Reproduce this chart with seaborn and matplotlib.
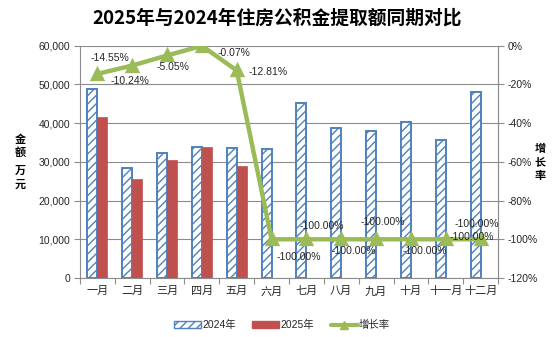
import numpy as np
import pandas as pd
import matplotlib
matplotlib.use("Agg")
import matplotlib.pyplot as plt
import seaborn as sns
from matplotlib.patches import Patch
from matplotlib.lines import Line2D
from matplotlib.ticker import FuncFormatter, MultipleLocator, FixedLocator

# ---------------- data ----------------
months = ["一月", "二月", "三月", "四月", "五月", "六月",
          "七月", "八月", "九月", "十月", "十一月", "十二月"]
values_2024 = [48800, 28500, 32200, 33900, 33500, 33200,
               45100, 38800, 38000, 40400, 35600, 48000]
values_2025 = [41700, 25500, 30500, 33800, 29000, 0,
               0, 0, 0, 0, 0, 0]
growth_rate = [-14.55, -10.24, -5.05, -0.07, -12.81, -100.00,
               -100.00, -100.00, -100.00, -100.00, -100.00, -100.00]
series_names = ["2024年", "2025年"]
line_name = "增长率"
title = "2025年与2024年住房公积金提取额同期对比"

# label offsets (pixels) for the growth-rate data labels
label_offsets = [(12, 16), (-2, -15), (6, -12), (32, -7), (31, -2), (27, -18),
                 (15, 13), (13, -12), (7, 17), (14, -12), (26, 2), (-4, 15)]

# ---------------- style ----------------
sns.set_theme(style="white")
plt.rcParams["font.family"] = ["Liberation Sans", "Noto Sans CJK SC"]
plt.rcParams["hatch.linewidth"] = 1.0

BLUE = "#4F81BD"
HATCH_BLUE = "#7FA3D3"
RED = "#C0504D"
GREEN = "#9BBB59"
GRID = "#8C8C8C"
TXT = "#262626"

df = pd.DataFrame({
    "month": months * 2,
    "year": [series_names[0]] * 12 + [series_names[1]] * 12,
    "value": values_2024 + values_2025,
})
df = df[df["value"] > 0]

fig = plt.figure(figsize=(5.54, 3.37), dpi=100)
ax = fig.add_axes([80 / 554, 1 - 278 / 337, 418 / 554, (278 - 45.7) / 337])

sns.barplot(data=df, x="month", y="value", hue="year", order=months,
            hue_order=series_names, palette=[BLUE, RED], width=0.57,
            legend=False, ax=ax, saturation=1)

# style bars
for patch in ax.containers[0]:
    patch.set_facecolor("white")
    patch.set_edgecolor(BLUE)
    patch.set_linewidth(1.4)
    patch.set_hatch("////")
    try:
        patch.set_hatchcolor(HATCH_BLUE)
    except Exception:
        pass
for patch in ax.containers[1]:
    patch.set_facecolor(RED)
    patch.set_edgecolor(RED)
    patch.set_linewidth(0.5)

ax.set_ylim(0, 60000)
ax.set_xlim(-0.5, 11.5)
ax.yaxis.set_major_locator(MultipleLocator(10000))
ax.yaxis.set_major_formatter(FuncFormatter(lambda v, p: f"{int(v):,}"))
ax.grid(axis="y", color=GRID, linewidth=0.8)
ax.set_axisbelow(True)
ax.set_xlabel("")
ax.set_ylabel("")

for s in ["top"]:
    ax.spines[s].set_visible(False)
for s in ["left", "bottom", "right"]:
    ax.spines[s].set_color(GRID)
    ax.spines[s].set_linewidth(0.8)

ax.tick_params(axis="y", which="major", left=True, length=4, width=0.8,
               color=GRID, labelsize=7.5, labelcolor=TXT, pad=3)
ax.tick_params(axis="x", which="major", bottom=False, length=0,
               labelsize=8, labelcolor=TXT, pad=6)
ax.xaxis.set_minor_locator(FixedLocator(np.arange(-0.5, 12, 1)))
ax.tick_params(axis="x", which="minor", bottom=True, length=4, width=0.8,
               color=GRID)
for lbl in ax.get_xticklabels():
    lbl.set_family(["Noto Sans CJK SC"])

# secondary axis: growth rate
ax2 = ax.twinx()
sns.pointplot(x=months, y=growth_rate, order=months, ax=ax2, color=GREEN,
              markers="^", linestyles="-", linewidth=3.2, markersize=7,
              errorbar=None)
ax2.set_ylim(-120, 0)
ax2.set_xlim(-0.5, 11.5)
ax2.yaxis.set_major_locator(MultipleLocator(20))
ax2.yaxis.set_major_formatter(FuncFormatter(lambda v, p: f"{v:.0f}%"))
ax2.tick_params(axis="y", right=True, length=4, width=0.8, color=GRID,
                labelsize=7.5, labelcolor=TXT, pad=3)
ax2.grid(False)
for s in ["top", "left", "bottom"]:
    ax2.spines[s].set_visible(False)
ax2.spines["right"].set_color(GRID)
ax2.spines["right"].set_linewidth(0.8)
ax2.set_ylabel("")

for i, (r, off) in enumerate(zip(growth_rate, label_offsets)):
    ax2.annotate(f"{r:.2f}%", xy=(i, r), xytext=off, textcoords="offset pixels",
                 ha="center", va="center", fontsize=7.5, color=TXT)

# axis titles (vertical stacked)
fig.text(20 / 554, 1 - 146 / 337, "金\n额", ha="center", va="center",
         fontsize=8, fontweight="bold", family=["Noto Sans CJK SC"],
         linespacing=1.05, color="black")
fig.text(20 / 554, 1 - 177.5 / 337, "万\n元", ha="center", va="center",
         fontsize=8, fontweight="bold", family=["Noto Sans CJK SC"],
         linespacing=1.05, color="black")
fig.text(540 / 554, 1 - 162 / 337, "增\n长\n率", ha="center", va="center",
         fontsize=8, fontweight="bold", family=["Noto Sans CJK SC"],
         linespacing=1.05, color="black")

fig.text(0.5, 1 - 18 / 337, title, ha="center", va="center", fontsize=13.5,
         fontweight="bold", family=["Noto Sans CJK SC"], color="black")

handles = [
    Patch(facecolor="white", edgecolor=BLUE, hatch="////", linewidth=1.0,
          label=series_names[0]),
    Patch(facecolor=RED, edgecolor=RED, label=series_names[1]),
    Line2D([0], [0], color=GREEN, lw=3, marker="^", markersize=6,
           label=line_name),
]
leg = fig.legend(handles=handles, loc="center", bbox_to_anchor=(282 / 554, 1 - 325 / 337),
                 ncol=3, frameon=False, handlelength=2.6,
                 handleheight=0.6, handletextpad=0.1, columnspacing=1.6,
                 prop={"family": ["Liberation Sans", "Noto Sans CJK SC"], "size": 7.5})

fig.savefig("out.png", dpi=100, facecolor="white")
